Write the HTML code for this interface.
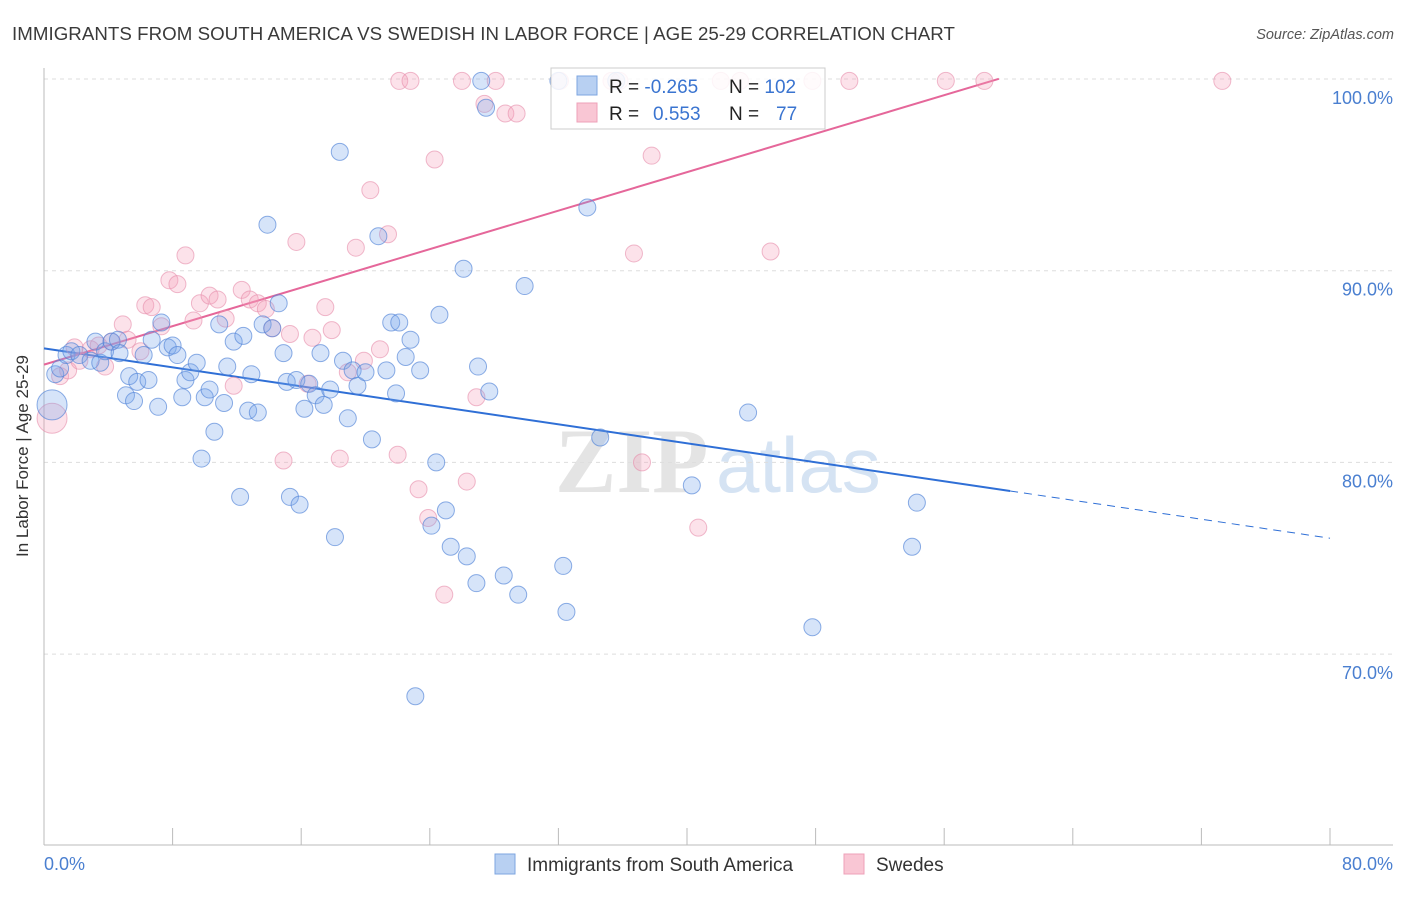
<!DOCTYPE html>
<html><head><meta charset="utf-8"><style>
body{margin:0;background:#fff;font-family:"Liberation Sans",sans-serif}
</style></head><body>
<svg id="chart" width="1406" height="892" xmlns="http://www.w3.org/2000/svg" style="font-family:'Liberation Sans',sans-serif">
<text x="12" y="40" font-size="18.7" fill="#3a3a3a" letter-spacing="0.05">IMMIGRANTS FROM SOUTH AMERICA VS SWEDISH IN LABOR FORCE | AGE 25-29 CORRELATION CHART</text>
<text x="1394" y="39" font-size="14.5" fill="#555" text-anchor="end" font-style="italic">Source: ZipAtlas.com</text>
<g><text x="555" y="492" font-size="92" fill="#e4e4e4" font-family="Liberation Serif" font-weight="bold">ZIP</text><text x="716" y="492" font-size="78" fill="#d5e3f3">atlas</text></g>
<g id="grid"></g><g id="axes"></g><g id="lines"></g><g id="points"></g>
<text x="28" y="456" font-size="17" fill="#333" text-anchor="middle" transform="rotate(-90 28 456)">In Labor Force | Age 25-29</text>
<g>
<rect x="551" y="68" width="274" height="61" fill="#fff" fill-opacity="0.85" stroke="#ccc"/>
<rect x="577" y="76" width="20" height="19" fill="#b8d0f2" stroke="#7ea6e0"/>
<rect x="577" y="103" width="20" height="19" fill="#f9c6d4" stroke="#eea0b8"/>
<text x="609" y="93" font-size="19" fill="#222">R = <tspan fill="#3a74d0">-0.265</tspan></text>
<text x="729" y="93" font-size="19" fill="#222">N = <tspan fill="#3a74d0">102</tspan></text>
<text x="609" y="120" font-size="19" fill="#222">R = <tspan fill="#3a74d0" x="653">0.553</tspan></text>
<text x="729" y="120" font-size="19" fill="#222">N = <tspan fill="#3a74d0" x="776">77</tspan></text>
</g>
<g>
<rect x="495" y="854" width="20" height="20" fill="#b8d0f2" stroke="#7ea6e0"/>
<text x="527" y="871" font-size="19" fill="#333">Immigrants from South America</text>
<rect x="844" y="854" width="20" height="20" fill="#f9c6d4" stroke="#eea0b8"/>
<text x="876" y="871" font-size="19" fill="#333">Swedes</text>
</g>
</svg>
<script>
const blueX=[0.5,0.7,1.0,1.4,1.7,2.2,2.9,3.2,3.5,3.8,4.2,4.6,4.7,5.1,5.3,5.6,5.8,6.2,6.5,6.7,7.1,7.3,7.7,8.0,8.3,8.6,8.8,9.1,9.5,9.8,10.0,10.3,10.6,10.9,11.2,11.4,11.8,12.2,12.4,12.7,12.9,13.3,13.6,13.9,14.2,14.6,14.9,15.1,15.3,15.7,15.9,16.2,16.5,16.9,17.2,17.4,17.8,18.1,18.4,18.6,18.9,19.2,19.5,20.0,20.4,20.8,21.3,21.6,21.9,22.1,22.5,22.8,23.4,23.1,24.1,24.4,24.6,25.0,25.3,26.1,26.3,26.9,27.0,27.2,27.5,27.7,28.6,29.5,29.9,32.0,32.3,32.5,33.8,34.6,35.6,40.3,43.8,47.8,54.0,54.3];
const blueY=[83.0,84.6,84.9,85.6,85.8,85.6,85.3,86.3,85.2,85.8,86.3,86.4,85.7,83.5,84.5,83.2,84.2,85.6,84.3,86.4,82.9,87.3,86.0,86.1,85.6,83.4,84.3,84.7,85.2,80.2,83.4,83.8,81.6,87.2,83.1,85.0,86.3,78.2,86.6,82.7,84.6,82.6,87.2,92.4,87.0,88.3,85.7,84.2,78.2,84.3,77.8,82.8,84.1,83.5,85.7,83.0,83.8,76.1,96.2,85.3,82.3,84.8,84.0,84.7,81.2,91.8,84.8,87.3,83.6,87.3,85.5,86.4,84.8,67.8,76.7,80.0,87.7,77.5,75.6,90.1,75.1,73.7,85.0,99.9,98.5,83.7,74.1,73.1,89.2,99.9,74.6,72.2,93.3,81.3,99.9,78.8,82.6,71.4,75.6,77.9];
const pinkX=[0.5,1.0,1.5,1.9,2.2,2.9,3.4,3.8,4.2,4.9,5.2,6.0,6.3,6.7,7.3,7.8,8.3,8.8,9.3,9.7,10.3,10.8,11.3,11.8,12.3,12.8,13.3,13.8,14.2,14.9,15.3,15.7,16.4,16.7,17.5,17.9,18.4,18.9,19.4,19.9,20.3,20.9,21.4,22.0,22.1,22.8,23.3,23.9,24.3,24.9,26.0,26.3,26.9,27.4,28.1,28.7,29.4,32.1,35.3,35.8,36.7,37.2,37.8,40.7,42.1,43.3,45.2,47.8,50.1,56.1,58.5,73.3];
const pinkY=[82.3,84.5,84.8,86.0,85.3,85.9,86.1,85.0,86.3,87.2,86.4,85.8,88.2,88.1,87.1,89.5,89.3,90.8,87.4,88.3,88.7,88.5,87.5,84.0,89.0,88.5,88.3,88.0,87.0,80.1,86.7,91.5,84.1,86.5,88.1,86.9,80.2,84.7,91.2,85.3,94.2,85.9,91.9,80.4,99.9,99.9,78.6,77.1,95.8,73.1,99.9,79.0,83.4,98.7,99.9,98.2,98.2,99.9,99.9,99.9,90.9,80.0,96.0,76.6,99.9,99.9,91.0,99.9,99.9,99.9,99.9,99.9];
const yTicks=[100,90,80,70];
const yTickLabels=["100.0%","90.0%","80.0%","70.0%"];
const xTicks=[0,8,16,24,32,40,48,56,64,72,80];
const blueTrend=[85.95,-0.1238,60.1]; // intercept, slope, solid end
const pinkTrend=[85.1,0.251,59.4];
const NS="http://www.w3.org/2000/svg";
const X0=44,X1=1330,Y100=79,YPX=19.17;
const sx=v=>X0+v*(X1-X0)/80, sy=v=>Y100+(100-v)*YPX;
function mk(p,t,a){const e=document.createElementNS(NS,t);for(const k in a)e.setAttribute(k,a[k]);document.getElementById(p).appendChild(e);return e;}
yTicks.forEach((t,i)=>{
 const g=mk('grid','line',{x1:X0,x2:1393,y1:sy(t),y2:sy(t),stroke:'#ddd','stroke-dasharray':'4,4'});
 
 
 const l=mk('axes','text',{x:1393,y:sy(t)+25,'font-size':18,fill:'#4a7fd0','text-anchor':'end'});
 l.textContent=yTickLabels[i];
 
 
});
const ax=mk('axes','line',{x1:X0,x2:X0,y1:68,y2:845,stroke:'#bbb'});


const bx=mk('axes','line',{x1:X0,x2:1393,y1:845,y2:845,stroke:'#bbb'});


xTicks.forEach(t=>{const k=mk('axes','line',{x1:sx(t),x2:sx(t),y1:828,y2:845,stroke:'#bbb'});
 
 });
const xl0=mk('axes','text',{x:44,y:870,'font-size':18,fill:'#4a7fd0'});xl0.textContent='0.0%';


const xl1=mk('axes','text',{x:1393,y:870,'font-size':18,fill:'#4a7fd0','text-anchor':'end'});xl1.textContent='80.0%';


function pts(xs,ys,fill,stroke,name){xs.forEach((x,i)=>{const big=i===0;
 const c=mk('points','circle',{cx:sx(x),cy:sy(ys[i]),r:big?15:8.5,fill:fill,stroke:stroke,'stroke-width':1});
 
 });}
pts(pinkX,pinkY,'rgba(244,160,186,0.3)','rgba(230,140,170,0.6)','swedes-point');
pts(blueX,blueY,'rgba(120,165,235,0.3)','rgba(80,130,215,0.65)','south-america-point');
const b=blueTrend;
const bl=mk('lines','line',{x1:sx(0),y1:sy(b[0]),x2:sx(b[2]),y2:sy(b[0]+b[1]*b[2]),stroke:'#2f6fd6','stroke-width':2});


const bd=mk('lines','line',{x1:sx(b[2]),y1:sy(b[0]+b[1]*b[2]),x2:sx(80),y2:sy(b[0]+b[1]*80),stroke:'#2f6fd6','stroke-width':1,'stroke-dasharray':'8,6'});


const p=pinkTrend;
const pl=mk('lines','line',{x1:sx(0),y1:sy(p[0]),x2:sx(p[2]),y2:sy(p[0]+p[1]*p[2]),stroke:'#e5679a','stroke-width':2});


</script>
</body></html>
